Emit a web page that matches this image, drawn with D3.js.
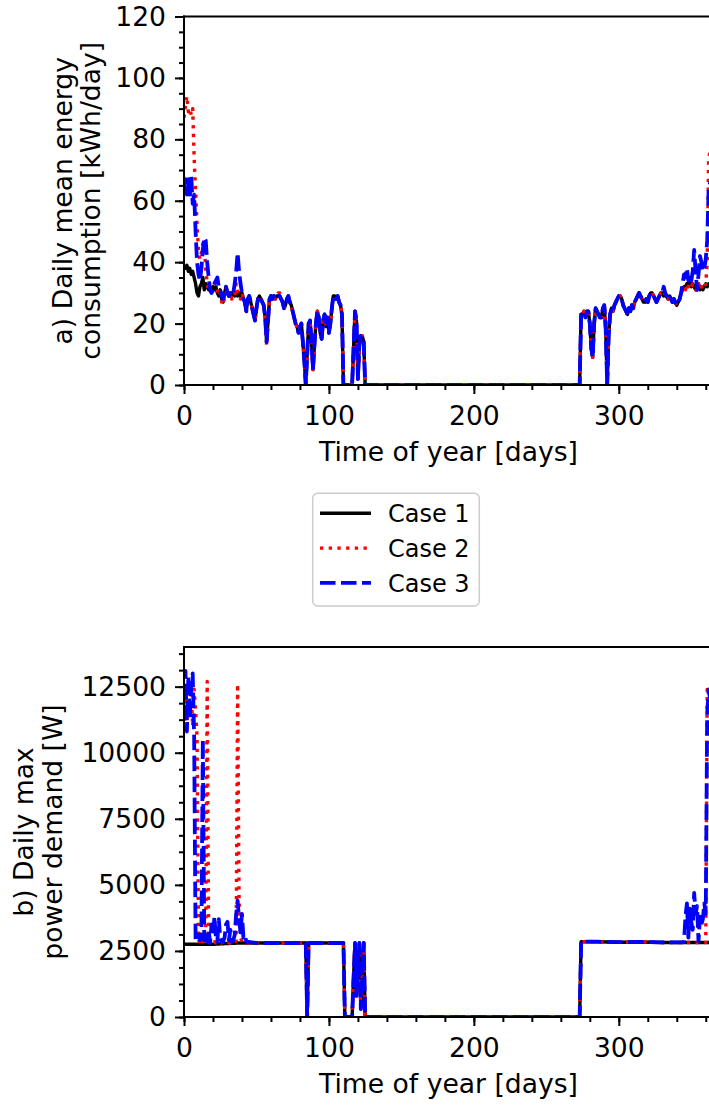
<!DOCTYPE html>
<html>
<head>
<meta charset="utf-8">
<script src="https://cdn.jsdelivr.net/npm/d3@7"></script>
<style>
  body { margin: 0; background: #fff; }
  svg { display: block; font-family: "DejaVu Sans", sans-serif; }
</style>
</head>
<body>
<div id="chart"></div>
<script>
// ---- data ----
var legendLabels = ["Case 1", "Case 2", "Case 3"];
var dayTicks = [0, 100, 200, 300];
var energyTicks = [0, 20, 40, 60, 80, 100, 120];
var powerTicks = [0, 2500, 5000, 7500, 10000, 12500];

// a) daily mean energy consumption [kWh/day]
var energyDays = [
  0,1,2,3,4,5,6,7,8,9,
  10,11,12,13,14,15,16,17,18,19,
  20,21,22,23,24,25,26,27,28,29,
  30,31,32,33,34,35,36,37,38,39,
  40,41,42,43,44,45,46,47,48,49,
  50,51,52,53,54,55,56,57,58,59,
  60,61,62,63,64,65,66,67,68,69,
  70,71,72,73,74,75,76,77,78,79,
  80,81,82,83,84,85,86,87,88,89,
  90,91,92,93,94,95,96,97,98,99,
  100,101,102,103,104,105,106,107,108,109,
  110,111,112,113,114,115,116,117,118,119,
  120,121,122,123,124,125,
  126,273,
  274,275,276,277,278,279,280,281,282,283,
  284,285,286,287,288,289,290,291,292,293,
  294,295,296,297,298,299,300,301,302,303,
  304,305,306,307,308,309,310,311,312,313,
  314,315,316,317,318,319,320,321,322,323,
  324,325,326,327,328,329,330,331,332,333,
  334,335,336,337,338,339,340,341,342,343,
  344,345,346,347,348,349,350,351,352,353,
  354,355,356,357,358,359,360,361,362,363,
  364,365
];
var energyCase1 = [
  39,38,39,37,38,36,37,35,33,30,
  29,32,33,35,31,33,32,31,31,30,
  32,31,32,30,29,31,28,27,30,32,
  30,29,30,29,30,29,30,29,30,29,
  30,28,27,24,28,29,27,25,23,21,
  25,28,29,28,27,26,22,14,21,28,
  29,28,29,28,29,29,29,28,27,25,
  26,28,29,27,26,24,22,20,19,17,
  19,20,14,8,0,10,20,21,14,5,
  13,20,24,22,17,15,21,23,19,22,
  17,20,25,29,29,28,29,27,26,23,
  0,0,0,0,0,0,0,12,24,21,
  2,13,16,16,14,0,
  0,0,
  23,23,24,22,24,24,20,12,9,20,
  25,24,23,22,22,25,26,18,0,16,
  23,25,24,26,27,28,29,29,28,26,
  25,24,23,25,24,26,25,27,28,29,
  30,29,28,27,27,28,27,29,30,30,
  29,28,27,28,29,30,30,29,30,29,
  28,29,28,27,28,27,26,27,28,30,
  31,32,32,33,33,34,32,33,32,31,
  32,33,31,32,31,32,33,32,33,33,
  32,33
];
var energyCase2 = [
  87,91,94,89,90,88,90,74,63,52,
  44,41,43,46,45,38,33,31,30,31,
  32,33,33,31,29,30,27,26,29,30,
  29,28,30,28,29,29,33,30,29,28,
  30,28,27,24,28,29,27,25,23,21,
  25,28,29,28,27,26,22,13,21,28,
  29,28,29,28,29,30,30,28,27,25,
  26,28,29,27,26,24,22,20,19,17,
  19,20,14,8,0,10,20,21,14,5,
  13,20,24,22,17,15,21,23,19,22,
  17,20,25,29,29,28,29,27,26,23,
  0,0,0,0,0,0,0,12,24,21,
  2,13,16,16,14,0,
  0,0,
  23,23,24,22,24,24,20,12,9,20,
  25,24,23,22,22,25,26,18,0,16,
  23,25,24,26,27,28,29,29,28,26,
  25,24,23,25,24,26,25,27,28,29,
  30,29,28,27,27,28,27,29,30,30,
  29,28,27,28,29,30,30,29,30,29,
  28,29,28,27,28,27,26,27,28,30,
  31,32,31,33,32,33,32,33,32,31,
  31,33,31,32,31,32,33,40,74,76,
  75,72
];
var energyCase3 = [
  63,67,62,67,61,68,59,62,50,40,
  36,34,38,44,48,47,40,35,31,30,
  31,33,34,35,32,31,29,28,30,32,
  30,29,30,29,30,33,37,43,37,33,
  30,28,27,24,28,29,27,25,23,21,
  25,28,29,28,27,26,22,14,21,28,
  29,28,29,28,29,29,29,28,27,25,
  26,28,29,27,26,24,22,20,19,17,
  19,20,14,8,0,10,20,21,14,5,
  13,20,24,22,17,15,21,23,19,22,
  17,20,25,29,29,28,29,27,26,23,
  0,0,0,0,0,0,0,12,24,21,
  2,13,16,16,14,0,
  0,0,
  23,23,24,22,24,24,20,12,9,20,
  25,24,23,22,22,25,26,18,0,16,
  23,25,24,26,27,28,29,29,28,26,
  25,24,23,25,24,26,25,27,28,29,
  30,29,28,27,27,28,27,29,30,30,
  29,28,27,28,29,30,30,32,30,29,
  28,29,28,27,28,27,26,27,28,30,
  33,36,35,38,34,36,34,37,44,37,
  31,36,42,40,37,38,41,47,64,66,
  65,63
];

// b) daily max power demand [W]
var powerDays = [
  0,1,2,3,4,5,6,7,8,9,
  10,11,12,13,14,15,16,17,18,19,
  20,21,22,23,24,25,26,27,28,29,
  30,31,32,33,34,35,36,37,38,39,
  40,41,42,43,
  50,60,70,84,85,86,100,110,111,116,
  117,118,119,120,121,122,123,124,125,
  273,274,285,300,315,330,344,
  345,346,347,348,349,350,351,352,353,354,
  355,356,357,358,359,360,361,362,363,364,
  365
];
var powerCase1 = [
  2750,2750,2750,2750,2750,2750,2750,2750,2750,2750,
  2750,2750,2750,2750,2750,2750,2750,2750,2750,2750,
  2750,2750,2760,2760,2760,2770,2770,2770,2780,2780,
  2780,2780,2790,2790,2790,2790,2800,2800,2800,2800,
  2800,2800,2800,2800,
  2800,2800,2800,2800,0,2800,2800,2800,0,0,
  1500,2800,800,2000,2800,300,1500,2800,0,
  0,2850,2850,2830,2840,2820,2820,
  2820,2820,2820,2820,2820,2820,2820,2820,2820,2820,
  2820,2820,2820,2820,2820,2820,2820,2820,2820,2820,
  2820
];
var powerCase2 = [
  11200,12300,11000,12600,11400,12200,11000,12400,11600,10600,
  2900,2850,3000,2850,2900,3000,12700,2850,2800,2850,
  2800,2850,2800,2800,2850,2800,2800,2850,2800,2800,
  2850,2800,2800,2850,2800,2800,2900,12600,4400,3000,
  2850,2800,2800,2800,
  2800,2800,2800,2800,0,2800,2800,2800,0,0,
  1500,2800,800,2000,2800,300,1500,2800,0,
  0,2850,2850,2830,2840,2820,2820,
  2820,2820,2820,2820,2820,2820,2820,2820,2820,2820,
  2820,2820,2820,2820,2820,2820,12400,12500,12000,12300,
  12000
];
var powerCase3 = [
  12000,13100,10800,12900,11300,12500,13000,10600,2900,3000,
  3100,2900,3000,10500,2900,3200,2850,3300,2800,3500,
  3100,3800,3000,2850,3700,3000,2850,2850,3000,3500,
  3600,2900,3300,2850,2900,3100,3900,4400,3700,3200,
  3900,3000,3100,2850,
  2800,2800,2800,2800,0,2800,2800,2800,0,0,
  1500,2800,800,2000,2800,300,1500,2800,0,
  0,2850,2850,2830,2840,2820,2820,
  2850,3800,4300,3000,4100,3600,3300,4700,3900,4200,
  2850,3800,3500,3700,4300,3900,11500,12400,12000,12500,
  12000
];

// ---- layout ----
var width = 709, height = 1105;
var fontSize = 26.6;

var svg = d3.select("#chart").append("svg")
  .attr("width", width)
  .attr("height", height);

svg.append("rect").attr("width", width).attr("height", height).attr("fill", "#fff");

var x = d3.scaleLinear().domain([0, 365]).range([184, 713]);

var caseStyles = [
  {color: "#000000", dash: null, width: 3.4},
  {color: "#ff0000", dash: "3.3,5.4", width: 3.4},
  {color: "#0000ff", dash: "15.5,5.5", width: 3.8}
];

var panels = [
  {
    id: "a",
    days: energyDays,
    series: [energyCase1, energyCase2, energyCase3],
    y: d3.scaleLinear().domain([0, 120]).range([385, 16.5]),
    yTicks: energyTicks,
    yMinor: d3.range(0, 121, 5),
    yLabel: ["a) Daily mean energy", "consumption [kWh/day]"],
    yLabelX: [71.5, 100],
    xLabelY: 460.5
  },
  {
    id: "b",
    days: powerDays,
    series: [powerCase1, powerCase2, powerCase3],
    y: d3.scaleLinear().domain([0, 14000]).range([1017, 647]),
    yTicks: powerTicks,
    yMinor: d3.range(0, 14000, 625),
    yLabel: ["b) Daily max", "power demand [W]"],
    yLabelX: [33, 62],
    xLabelY: 1092.5
  }
];

panels.forEach(function(p) {
  var top = p.y.range()[1], bottom = p.y.range()[0];
  var left = x.range()[0], right = x.range()[1];
  var g = svg.append("g").attr("class", "panel-" + p.id);

  // clip so the lines stay inside the axes box
  svg.append("defs").append("clipPath")
    .attr("id", "clip-" + p.id)
    .append("rect")
    .attr("x", left).attr("y", top)
    .attr("width", right - left).attr("height", bottom - top);

  var lines = g.append("g").attr("clip-path", "url(#clip-" + p.id + ")");

  p.series.forEach(function(vals, k) {
    var st = caseStyles[k];
    var line = d3.line()
      .x(function(d, i) { return x(p.days[i]); })
      .y(function(d) { return p.y(d); });
    lines.append("path")
      .datum(vals)
      .attr("d", line)
      .attr("fill", "none")
      .attr("stroke", st.color)
      .attr("stroke-width", st.width)
      .attr("stroke-dasharray", st.dash)
      .attr("stroke-linejoin", "round")
      .attr("stroke-linecap", "butt");
  });

  // minor + major ticks
  var xMinor = g.append("g").attr("transform", "translate(0," + bottom + ")")
    .call(d3.axisBottom(x).tickValues(d3.range(0, 366, 20)).tickSize(5).tickFormat(""));
  var xMajor = g.append("g").attr("transform", "translate(0," + bottom + ")")
    .call(d3.axisBottom(x).tickValues(dayTicks).tickSize(9).tickPadding(12).tickFormat(d3.format("d")));
  var yMinor = g.append("g").attr("transform", "translate(" + left + ",0)")
    .call(d3.axisLeft(p.y).tickValues(p.yMinor).tickSize(5).tickFormat(""));
  var yMajor = g.append("g").attr("transform", "translate(" + left + ",0)")
    .call(d3.axisLeft(p.y).tickValues(p.yTicks).tickSize(9).tickPadding(9).tickFormat(d3.format("d")));

  [xMinor, xMajor, yMinor, yMajor].forEach(function(a) {
    a.select(".domain").remove();
    a.selectAll(".tick line").attr("stroke", "#000").attr("stroke-width", 2);
    a.selectAll(".tick text")
      .attr("fill", "#000")
      .style("font-family", "DejaVu Sans")
      .style("font-size", fontSize + "px");
  });

  // spines: left, bottom, top (right one falls outside the picture)
  var spines = [
    [left, top, left, bottom],
    [left, bottom, right, bottom],
    [left, top, right, top],
    [right, top, right, bottom]
  ];
  g.selectAll("line.spine").data(spines).enter().append("line")
    .attr("class", "spine")
    .attr("x1", function(d) { return d[0]; })
    .attr("y1", function(d) { return d[1]; })
    .attr("x2", function(d) { return d[2]; })
    .attr("y2", function(d) { return d[3]; })
    .attr("stroke", "#000")
    .attr("stroke-width", 2)
    .attr("stroke-linecap", "square");

  // axis labels
  g.append("text")
    .attr("x", (left + right) / 2)
    .attr("y", p.xLabelY)
    .attr("text-anchor", "middle")
    .style("font-size", fontSize + "px")
    .text("Time of year [days]");

  var cy = (top + bottom) / 2;
  p.yLabel.forEach(function(txt, i) {
    g.append("text")
      .attr("transform", "translate(" + p.yLabelX[i] + "," + cy + ") rotate(-90)")
      .attr("text-anchor", "middle")
      .style("font-size", fontSize + "px")
      .text(txt);
  });
});

// ---- legend ----
var legend = svg.append("g").attr("class", "legend");
legend.append("rect")
  .attr("x", 312.7).attr("y", 493.3)
  .attr("width", 166.6).attr("height", 112.7)
  .attr("rx", 5)
  .attr("fill", "#fff")
  .attr("fill-opacity", 0.8)
  .attr("stroke", "#cccccc")
  .attr("stroke-width", 1.5);

var rows = legend.selectAll("g.row").data(legendLabels).enter().append("g")
  .attr("class", "row")
  .attr("transform", function(d, i) { return "translate(0," + (513.3 + i * 34.8) + ")"; });

rows.append("line")
  .attr("x1", 320).attr("x2", 371)
  .attr("y1", 0).attr("y2", 0)
  .attr("stroke", function(d, i) { return caseStyles[i].color; })
  .attr("stroke-width", function(d, i) { return caseStyles[i].width; })
  .attr("stroke-dasharray", function(d, i) { return caseStyles[i].dash; });

rows.append("text")
  .attr("x", 388)
  .attr("y", 8.6)
  .style("font-size", "24px")
  .text(function(d) { return d; });
</script>
</body>
</html>
